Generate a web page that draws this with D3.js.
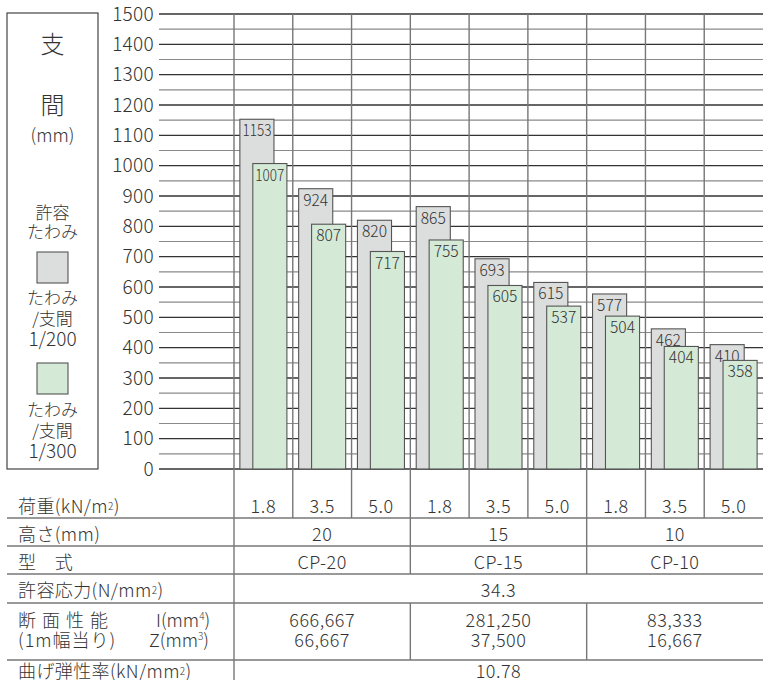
<!DOCTYPE html>
<html>
<head>
<meta charset="utf-8">
<script src="https://cdn.jsdelivr.net/npm/d3@7"></script>
<style>
  body { margin: 0; background: #fff; }
  svg text { font-family: "Noto Sans CJK JP", "Noto Sans", sans-serif; fill: #333; font-weight: 300; }
</style>
</head>
<body>
<svg id="chart"></svg>
<script>
// values
const loads = ['1.8', '3.5', '5.0'];
const heights = ['20', '15', '10'];
const models = ['CP-20', 'CP-15', 'CP-10'];
const span200 = [1153, 924, 820, 865, 693, 615, 577, 462, 410];
const span300 = [1007, 807, 717, 755, 605, 537, 504, 404, 358];
const inertiaI = ['666,667', '281,250', '83,333'];
const modulusZ = ['66,667', '37,500', '16,667'];
const allowStress = '34.3';
const elasticity = '10.78';
const yTicks = d3.range(0, 1501, 100);
const yMinor = d3.range(50, 1500, 100);

const W = 772, H = 680;
const svg = d3.select('#chart').attr('width', W).attr('height', H);

const left = 234, right = 763, gridLeft = 159;
const y = d3.scaleLinear().domain([0, 1500]).range([469, 14]);
const x = d3.scaleBand().domain(d3.range(9)).range([left, right]);
const bw = x.bandwidth();
const groupX = d3.scaleBand().domain(d3.range(3)).range([left, right]);

// table row borders
const rowLines = [518, 546, 574, 603, 660];

// minor + major grid lines
svg.append('g').selectAll('line')
  .data(yMinor).join('line')
  .attr('x1', gridLeft).attr('x2', right)
  .attr('y1', d => y(d)).attr('y2', d => y(d))
  .attr('stroke', '#8a8a8a').attr('stroke-width', 1.2);

svg.append('g').selectAll('line')
  .data(yTicks).join('line')
  .attr('x1', gridLeft).attr('x2', right)
  .attr('y1', d => y(d)).attr('y2', d => y(d))
  .attr('stroke', '#333').attr('stroke-width', 1.3);

// column lines (run down through the load row)
svg.append('g').selectAll('line')
  .data(d3.range(9)).join('line')
  .attr('x1', d => x(d)).attr('x2', d => x(d))
  .attr('y1', y(1500)).attr('y2', rowLines[0])
  .attr('stroke', '#777').attr('stroke-width', 1.4);

// y tick labels
svg.append('g').selectAll('text')
  .data(yTicks).join('text')
  .attr('x', 154).attr('y', d => y(d) + 6.5)
  .attr('text-anchor', 'end')
  .style('font-size', '19px').style('letter-spacing', '0.3px')
  .text(d => d);

// bars
const bars = svg.append('g');
const barW = bw * 0.58;
const series = [
  {vals: span200, off: 0.10, fill: '#dcdddd'},
  {vals: span300, off: 0.32, fill: '#d5e9d7'}
];
d3.range(9).forEach(i => {
  series.forEach(s => {
    const bx = x(i) + bw * s.off;
    const v = s.vals[i];
    bars.append('rect')
      .attr('x', bx).attr('y', y(v))
      .attr('width', barW).attr('height', y(0) - y(v))
      .attr('fill', s.fill).attr('stroke', '#555').attr('stroke-width', 1.1);
    const t = bars.append('text')
      .attr('x', bx + barW / 2).attr('y', y(v) + 17)
      .attr('text-anchor', 'middle')
      .style('font-size', '16px')
      .text(v);
    if (v >= 1000) t.attr('textLength', 29).attr('lengthAdjust', 'spacingAndGlyphs');
    else t.attr('textLength', 25).attr('lengthAdjust', 'spacingAndGlyphs');
  });
});

// legend box
const lg = svg.append('g');
lg.append('rect').attr('x', 7).attr('y', 13).attr('width', 91).attr('height', 456)
  .attr('fill', 'none').attr('stroke', '#444').attr('stroke-width', 1.2);
const cx = 52.5;
const legendText = [
  {t: '支', y: 53, s: 24}, {t: '間', y: 114, s: 24}, {t: '(mm)', y: 142, s: 18},
  {t: '許容', y: 219, s: 17}, {t: 'たわみ', y: 238, s: 17},
  {t: 'たわみ', y: 304, s: 17}, {t: '/支間', y: 325, s: 17}, {t: '1/200', y: 346, s: 19},
  {t: 'たわみ', y: 416, s: 17}, {t: '/支間', y: 437, s: 17}, {t: '1/300', y: 458, s: 19}
];
lg.selectAll('text').data(legendText).join('text')
  .attr('x', cx).attr('y', d => d.y).attr('text-anchor', 'middle')
  .style('font-size', d => d.s + 'px').text(d => d.t);
lg.append('rect').attr('x', 37).attr('y', 252).attr('width', 31).attr('height', 31)
  .attr('fill', series[0].fill).attr('stroke', '#555').attr('stroke-width', 1.1);
lg.append('rect').attr('x', 37).attr('y', 363).attr('width', 31).attr('height', 31)
  .attr('fill', series[1].fill).attr('stroke', '#555').attr('stroke-width', 1.1);

// table
const tb = svg.append('g');
tb.selectAll('line.row').data(rowLines).join('line')
  .attr('class', 'row')
  .attr('x1', 7).attr('x2', right)
  .attr('y1', d => d).attr('y2', d => d)
  .attr('stroke', '#777').attr('stroke-width', 1.4);

// label column divider
tb.append('line').attr('x1', left).attr('x2', left).attr('y1', rowLines[0]).attr('y2', H)
  .attr('stroke', '#777').attr('stroke-width', 1.4);
// group dividers in rows 2,3 and 5
const groupEdges = [groupX(1), groupX(2)];
[[rowLines[0], rowLines[2]], [rowLines[3], rowLines[4]]].forEach(([a, b]) => {
  tb.selectAll(null).data(groupEdges).join('line')
    .attr('x1', d => d).attr('x2', d => d).attr('y1', a).attr('y2', b)
    .attr('stroke', '#777').attr('stroke-width', 1.4);
});

const fs = '18px';
// row labels
const rowLabels = [
  {t: '荷重(kN/m', sup: '2', tail: ')', y: 513},
  {t: '高さ(mm)', y: 541},
  {t: '型　式', y: 569},
  {t: '許容応力(N/mm', sup: '2', tail: ')', y: 597},
  {t: '曲げ弾性率(kN/mm', sup: '2', tail: ')', y: 678}
];
rowLabels.forEach(r => {
  const t = tb.append('text').attr('x', 18).attr('y', r.y)
    .style('font-size', fs).style('letter-spacing', '0.4px');
  t.append('tspan').text(r.t);
  if (r.sup) {
    t.append('tspan').style('font-size', '10px').attr('dy', -3).text(r.sup);
    t.append('tspan').attr('dy', 3).text(r.tail);
  }
});
// two-line label of the section row
const sec1 = tb.append('text').attr('x', 18).attr('y', 627).style('font-size', fs);
sec1.append('tspan').style('letter-spacing', '6px').text('断面性能');
sec1.append('tspan').attr('x', 156).text('I(mm');
sec1.append('tspan').style('font-size', '10px').attr('dy', -7).text('4');
sec1.append('tspan').attr('dy', 7).text(')');
const sec2 = tb.append('text').attr('x', 18).attr('y', 647).style('font-size', fs);
sec2.append('tspan').style('letter-spacing', '1px').text('(1m幅当り)');
sec2.append('tspan').attr('x', 149).text('Z(mm');
sec2.append('tspan').style('font-size', '10px').attr('dy', -7).text('3');
sec2.append('tspan').attr('dy', 7).text(')');

// load values
tb.selectAll('text.load').data(d3.range(9)).join('text')
  .attr('class', 'load')
  .attr('x', d => x(d) + bw / 2).attr('y', 513)
  .attr('text-anchor', 'middle').style('font-size', fs).style('letter-spacing', '0.6px')
  .text(d => loads[d % 3]);

const groupText = (arr, yy) => tb.selectAll(null).data(arr).join('text')
  .attr('x', (d, i) => groupX(i) + groupX.bandwidth() / 2).attr('y', yy)
  .attr('text-anchor', 'middle').style('font-size', fs).style('letter-spacing', '0.5px')
  .text(d => d);
groupText(heights, 541);
groupText(models, 569);
groupText(inertiaI, 627);
groupText(modulusZ, 647);

const mid = (left + right) / 2;
tb.append('text').attr('x', mid).attr('y', 597).attr('text-anchor', 'middle')
  .style('font-size', fs).style('letter-spacing', '0.5px').text(allowStress);
tb.append('text').attr('x', mid).attr('y', 678).attr('text-anchor', 'middle')
  .style('font-size', fs).style('letter-spacing', '0.5px').text(elasticity);
</script>
</body>
</html>
